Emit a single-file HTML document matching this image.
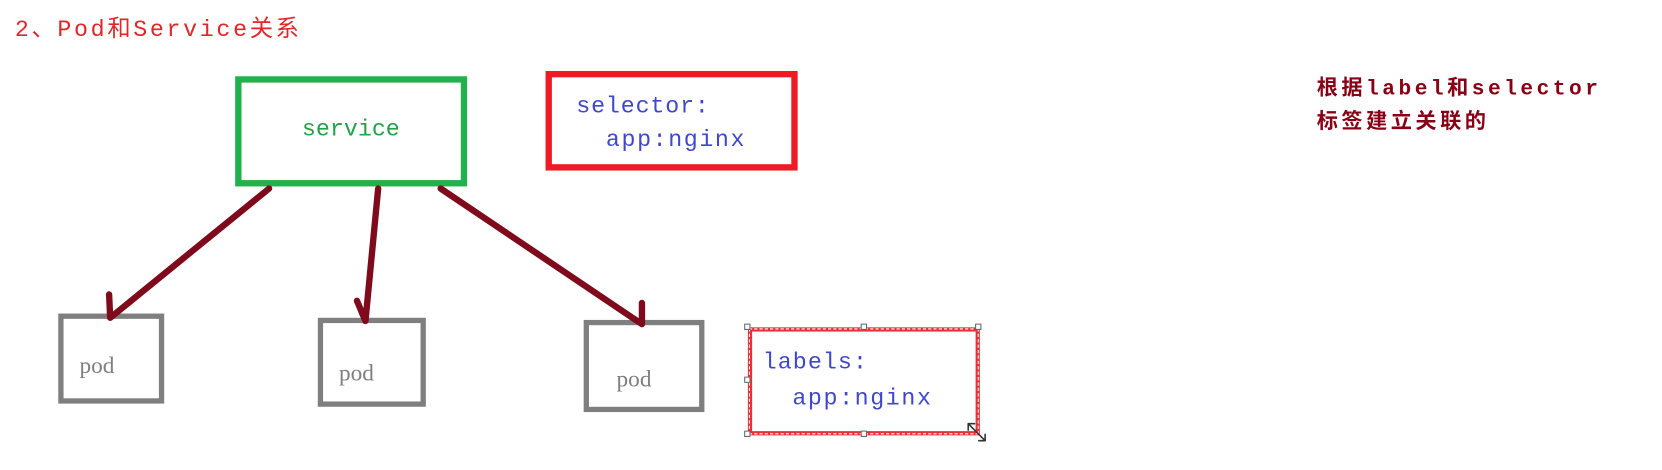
<!DOCTYPE html>
<html><head><meta charset="utf-8"><style>
body{margin:0;width:1662px;height:470px;background:#fff;position:relative;overflow:hidden}
#w{position:absolute;left:0;top:0;width:1570px;height:444px;transform:scale(1.0593);transform-origin:0 0}
.t{position:absolute;white-space:nowrap;font-family:"Liberation Mono","Noto Sans CJK SC",monospace;line-height:1}
.b{position:absolute;box-sizing:border-box;background:#fff}
</style></head><body><div id="w">
<div class="t" style="left:14px;top:18px;font-size:22px;color:#e0262a;letter-spacing:2.5px">2、Pod和Service关系</div>

<div class="b" style="left:222px;top:72px;width:219px;height:104px;border:6px solid #22b14c"></div>
<div class="t" style="left:285px;top:112px;font-size:22px;color:#22a04a">service</div>

<div class="b" style="left:515px;top:67px;width:238px;height:94px;border:6px solid #ed1c24"></div>
<div class="t" style="left:544px;top:90px;font-size:22px;color:#3f48cc;letter-spacing:0.8px">selector:</div>
<div class="t" style="left:572px;top:122px;font-size:22px;color:#3f48cc;letter-spacing:1.5px">app:nginx</div>

<div class="b" style="left:55px;top:296px;width:100px;height:85px;border:5px solid #7f7f7f"></div>
<div class="t" style="left:75px;top:334px;font-size:22px;color:#7f7f7f;font-family:'Liberation Serif',serif">pod</div>
<div class="b" style="left:300px;top:300px;width:102px;height:84px;border:5px solid #7f7f7f"></div>
<div class="t" style="left:320px;top:341px;font-size:22px;color:#7f7f7f;font-family:'Liberation Serif',serif">pod</div>
<div class="b" style="left:551px;top:302px;width:114px;height:87px;border:5px solid #7f7f7f"></div>
<div class="t" style="left:582px;top:347px;font-size:22px;color:#7f7f7f;font-family:'Liberation Serif',serif">pod</div>

<div class="b" style="left:706px;top:309px;width:219px;height:102px;border:4px solid #e8303a"></div>
<div class="b" style="left:707px;top:310px;width:217px;height:100px;border:1px dashed #fff;background:transparent"></div>
<div class="t" style="left:720px;top:332px;font-size:22px;color:#3f48cc;letter-spacing:1px">labels:</div>
<div class="t" style="left:748px;top:366px;font-size:22px;color:#3f48cc;letter-spacing:1.5px">app:nginx</div>

<div class="t" style="left:1243px;top:75px;font-size:20px;color:#880015;font-weight:bold;letter-spacing:3.3px">根据label和selector</div>
<div class="t" style="left:1243px;top:107px;font-size:20px;color:#880015;font-weight:bold;letter-spacing:3.3px">标签建立关联的</div>

<svg width="1570" height="444" style="position:absolute;left:0;top:0" fill="none" stroke="#7f0a1c" stroke-width="6" stroke-linecap="round" stroke-linejoin="round">
<polyline points="254,178 104,300 103,278"/>
<polyline points="357,178 345,303 337,284"/>
<polyline points="416,178 606,306 606,286"/>
<g stroke="#666" stroke-width="1" fill="#fff"><rect x="703" y="306" width="5" height="5"/><rect x="813" y="306" width="5" height="5"/><rect x="921" y="306" width="5" height="5"/><rect x="703" y="356" width="5" height="5"/><rect x="703" y="407" width="5" height="5"/><rect x="813" y="407" width="5" height="5"/></g>
<path d="M914 400 L930 416 M914 400 L914 406 M914 400 L920 400 M930 416 L930 410 M930 416 L924 416" stroke="#333" stroke-width="1.5"/>
</svg>
</div></body></html>
